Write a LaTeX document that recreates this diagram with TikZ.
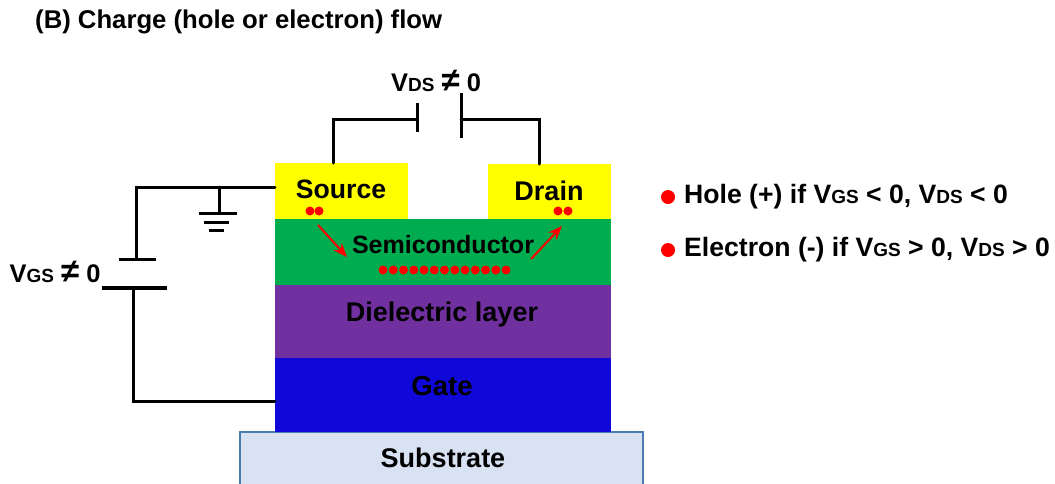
\documentclass[tikz,border=0pt]{standalone}
\usepackage{fontspec}
\setmainfont{Liberation Sans}
\usetikzlibrary{arrows.meta}
\definecolor{padyellow}{RGB}{255,255,0}
\definecolor{chargered}{RGB}{255,0,0}
\definecolor{semigreen}{HTML}{00AC50}
\definecolor{dielpurple}{HTML}{7030A0}
\definecolor{gateblue}{HTML}{1007D9}
\definecolor{subfill}{HTML}{D9E2F3}
\definecolor{subedge}{HTML}{4A7DAE}
\newcommand{\subtxt}[1]{{\fontsize{19}{19}\selectfont #1}}
\newcommand{\neqtxt}{{\fontsize{33}{33}\selectfont ≠}}
\begin{document}
\begin{tikzpicture}[x=1pt,y=-1pt,
  layer/.style={shape=rectangle, anchor=north west, inner sep=0pt, outer sep=0pt},
  txt/.style={inner sep=0pt, text=black, font=\fontsize{#1}{#1}\selectfont\bfseries},
  txt/.default=25.5,
  legend/.style={txt=26.6, anchor=west},
  wire/.style={draw=black, line width=3pt, line cap=round, line join=miter},
  plate/.style={draw=black, line width=3pt},
  charge/.style={shape=circle, fill=chargered, inner sep=0pt, minimum size=9pt},
  flow/.style={draw=chargered, line width=2pt, -{Stealth[length=14pt,width=11pt]}}
  ]
  \useasboundingbox (0,0) rectangle (1055,483);
  % stack
  \node[layer, fill=subfill, draw=subedge, line width=1.2pt, minimum width=403pt, minimum height=55pt] (substrate) at (240,432) {};
  \node[layer, fill=gateblue, minimum width=336pt, minimum height=74pt] (gate) at (275,358) {};
  \node[layer, fill=dielpurple, minimum width=336pt, minimum height=73pt] (dielectric) at (275,285) {};
  \node[layer, fill=semigreen, minimum width=336pt, minimum height=66pt] (semi) at (275,219) {};
  \node[layer, fill=padyellow, minimum width=133pt, minimum height=56pt] (source) at (275,163) {};
  \node[layer, fill=padyellow, minimum width=123pt, minimum height=55pt] (drain) at (488,164) {};
  % labels
  \node[txt=26.6] (sourcetxt) at (341,189) {Source};
  \node[txt=27] (draintxt) at (549,191) {Drain};
  \node[txt=25] (semitxt) at (443,245) {Semiconductor};
  \node[txt=27] (dieltxt) at (442,315) {Dielectric layer};
  \node[txt=27.5] (gatetxt) at (442,386) {Gate};
  \node[txt=27] (subtxt) at (443,458) {Substrate};
  \node[txt=25.7, anchor=west] (title) at (35,22) {(B) Charge (hole or electron) flow};
  \node[txt=25.5] (vds) at (436,81) {V\subtxt{DS} \neqtxt{} 0};
  \node[txt=25.5] (vgs) at (55,272) {V\subtxt{GS} \neqtxt{} 0};
  % drain-source battery
  \coordinate (dsleft) at (417,119);
  \coordinate (dsright) at (461,119);
  \coordinate (srcpin) at (333,163);
  \coordinate (drnpin) at (539,164);
  \draw[wire] (srcpin) |- (dsleft);
  \draw[wire] (drnpin) |- (dsright);
  \draw[plate] (417,103) -- (417,132);
  \draw[plate] (461,93) -- (461,138);
  % gate battery
  \coordinate (gstop) at (136,259);
  \coordinate (gsbot) at (133,288);
  \coordinate (srcside) at (275,187);
  \coordinate (gateside) at (275,401);
  \draw[wire] (srcside) -| (gstop);
  \draw[wire] (gateside) -| (gsbot);
  \draw[plate] (119,259) -- (156,259);
  \draw[plate, line width=4pt] (102,288) -- (167,288);
  % ground
  \coordinate (gndtop) at (219,187);
  \coordinate (gndbot) at (219,213);
  \draw[wire] (gndtop) -- (gndbot);
  \draw[plate] (199,213) -- (237,213);
  \draw[plate] (204,222) -- (229,222);
  \draw[plate] (209,230) -- (224,230);
  % charges
  \node[charge] (s1) at (310,211) {};
  \node[charge] (s2) at (319,211) {};
  \node[charge] (d1) at (558,211) {};
  \node[charge] (d2) at (568,211) {};
  \foreach \i in {0,...,12}
    \node[charge] (c\i) at ({383+\i*10.25},270) {};
  \coordinate (a1) at (318,225);
  \coordinate (a2) at (347,257);
  \coordinate (b1) at (531,259);
  \coordinate (b2) at (562,226);
  \draw[flow] (a1) -- (a2);
  \draw[flow] (b1) -- (b2);
  % legend
  \node[charge, minimum size=14pt] (holedot) at (668,197) {};
  \node[charge, minimum size=14pt] (elecdot) at (668,250) {};
  \node[legend] (holetxt) at (684,197) {Hole (+) if V\subtxt{GS} < 0, V\subtxt{DS} < 0};
  \node[legend] (electxt) at (684,250) {Electron (-) if V\subtxt{GS} > 0, V\subtxt{DS} > 0};
\end{tikzpicture}
\end{document}
